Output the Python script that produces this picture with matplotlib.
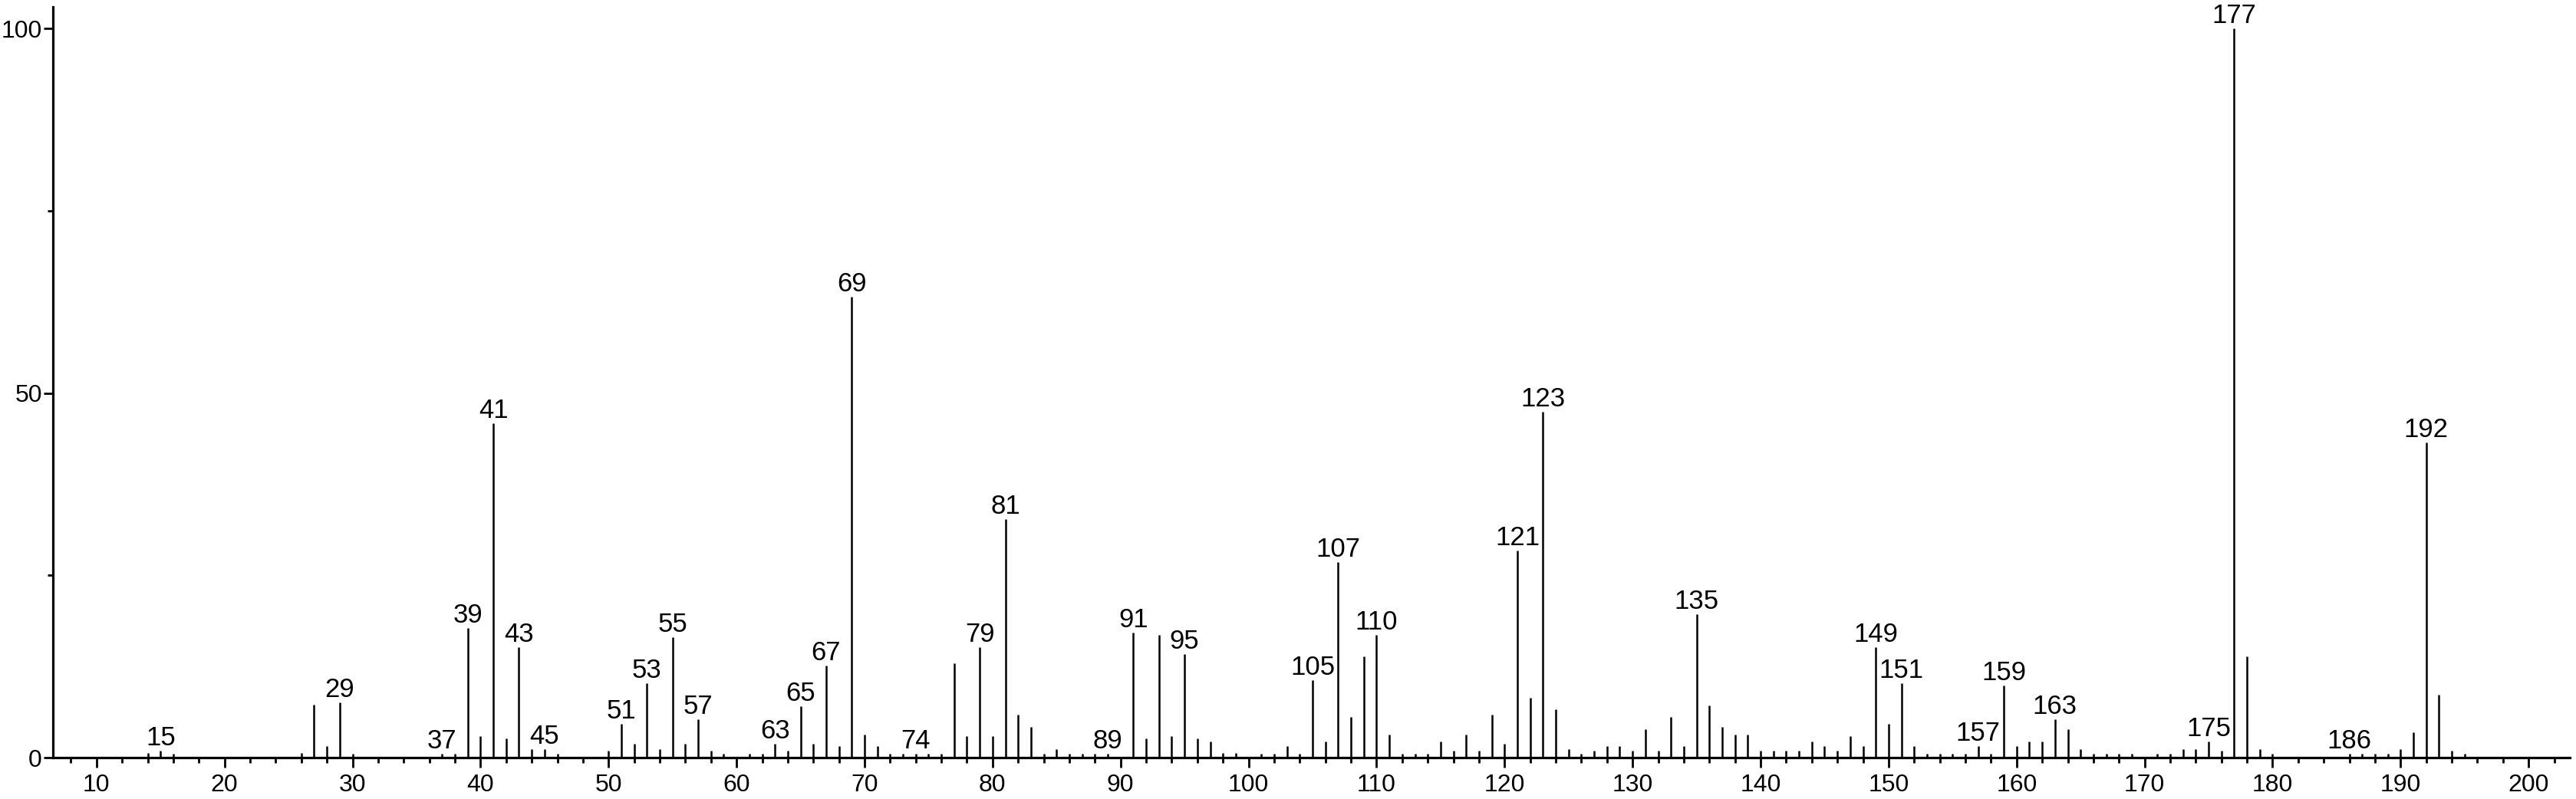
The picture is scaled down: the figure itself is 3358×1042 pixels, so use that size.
import matplotlib
matplotlib.use("Agg")
import matplotlib.pyplot as plt
from matplotlib.ticker import MultipleLocator

# m/z values and relative intensities (%)
mz = [14, 15, 16, 26, 27, 28, 29, 30, 37, 38, 39, 40, 41, 42, 43, 44, 45, 46,
      50, 51, 52, 53, 54, 55, 56, 57, 58, 59, 61, 62, 63, 64, 65, 66, 67, 68,
      69, 70, 71, 72, 73, 74, 75, 76, 77, 78, 79, 80, 81, 82, 83, 84, 85, 86,
      87, 88, 89, 91, 92, 93, 94, 95, 96, 97, 98, 99, 101, 102, 103, 104, 105,
      106, 107, 108, 109, 110, 111, 112, 113, 114, 115, 116, 117, 118, 119,
      120, 121, 122, 123, 124, 125, 126, 127, 128, 129, 130, 131, 132, 133,
      134, 135, 136, 137, 138, 139, 140, 141, 142, 143, 144, 145, 146, 147,
      148, 149, 150, 151, 152, 153, 154, 155, 156, 157, 158, 159, 160, 161,
      162, 163, 164, 165, 166, 167, 168, 169, 171, 172, 173, 174, 175, 176,
      177, 178, 179, 180, 186, 187, 188, 189, 190, 191, 192, 193, 194, 195]
intensity = [0.6, 1.0, 0.5, 0.6, 7.3, 1.6, 7.6, 0.5, 0.5, 0.5, 17.8, 2.9, 45.9,
             2.6, 15.2, 1.2, 1.2, 0.5, 0.9, 4.6, 1.9, 10.2, 1.2, 16.5, 1.9, 5.3,
             0.9, 0.5, 0.5, 0.5, 1.9, 0.9, 7.1, 1.9, 12.6, 1.6, 63.2, 3.2, 1.6,
             0.5, 0.5, 0.5, 0.5, 0.5, 12.9, 2.9, 15.1, 2.9, 32.7, 5.9, 4.2, 0.5,
             1.2, 0.5, 0.5, 0.5, 0.5, 17.1, 2.6, 16.8, 2.9, 14.2, 2.6, 2.2, 0.6,
             0.6, 0.5, 0.5, 1.6, 0.5, 10.6, 2.2, 26.8, 5.6, 13.9, 16.8, 3.2, 0.5,
             0.5, 0.5, 2.2, 0.9, 3.2, 0.9, 5.9, 1.9, 28.4, 8.2, 47.5, 6.6, 1.2,
             0.5, 0.9, 1.6, 1.6, 0.9, 3.9, 0.9, 5.6, 1.6, 19.7, 7.2, 4.2, 3.2,
             3.2, 0.9, 0.9, 0.9, 0.9, 2.2, 1.6, 0.9, 2.9, 1.6, 15.1, 4.6, 10.2,
             1.6, 0.5, 0.5, 0.5, 0.5, 1.6, 0.5, 9.9, 1.6, 2.2, 2.2, 5.3, 3.9,
             1.2, 0.5, 0.5, 0.5, 0.5, 0.5, 0.5, 1.2, 1.2, 2.2, 0.9, 100.0, 13.9,
             1.2, 0.5, 0.5, 0.5, 0.5, 0.5, 1.2, 3.5, 43.2, 8.6, 0.9, 0.5]

# peaks that carry an m/z label
labeled = [15, 29, 37, 39, 41, 43, 45, 51, 53, 55, 57, 63, 65, 67, 69, 74, 79,
           81, 89, 91, 95, 105, 107, 110, 121, 123, 135, 149, 151, 157, 159,
           163, 175, 177, 186, 192]

x_ticks = list(range(10, 201, 10))
y_ticks = [0, 50, 100]

plt.rcParams["font.family"] = ["Liberation Sans", "DejaVu Sans"]

fig = plt.figure(figsize=(33.58, 10.42), dpi=100)
ax = fig.add_axes([0.0205, 0.0518, 0.9770, 0.9396])

ax.vlines(mz, 0, intensity, colors="black", linewidth=1.8)

lookup = dict(zip(mz, intensity))
for m in labeled:
    ax.annotate(str(m), (m, lookup[m]), xytext=(0, 0), textcoords="offset points",
                ha="center", va="bottom", fontsize=25)

ax.set_xlim(6.585, 203.2)
ax.set_ylim(0, 103)

for side in ("top", "right"):
    ax.spines[side].set_visible(False)
for side in ("left", "bottom"):
    ax.spines[side].set_linewidth(2.3)

ax.set_xticks(x_ticks)
ax.xaxis.set_minor_locator(MultipleLocator(2))
ax.set_yticks(y_ticks)
ax.yaxis.set_minor_locator(MultipleLocator(25))

ax.tick_params(axis="x", which="major", direction="out", length=9, width=2,
               labelsize=23, pad=6)
ax.tick_params(axis="x", which="minor", direction="out", length=5, width=2)
ax.tick_params(axis="y", which="major", direction="out", length=9, width=2,
               labelsize=23, pad=1)
ax.tick_params(axis="y", which="minor", direction="out", length=5, width=2)

fig.savefig("out.png", dpi=100, facecolor="white")
